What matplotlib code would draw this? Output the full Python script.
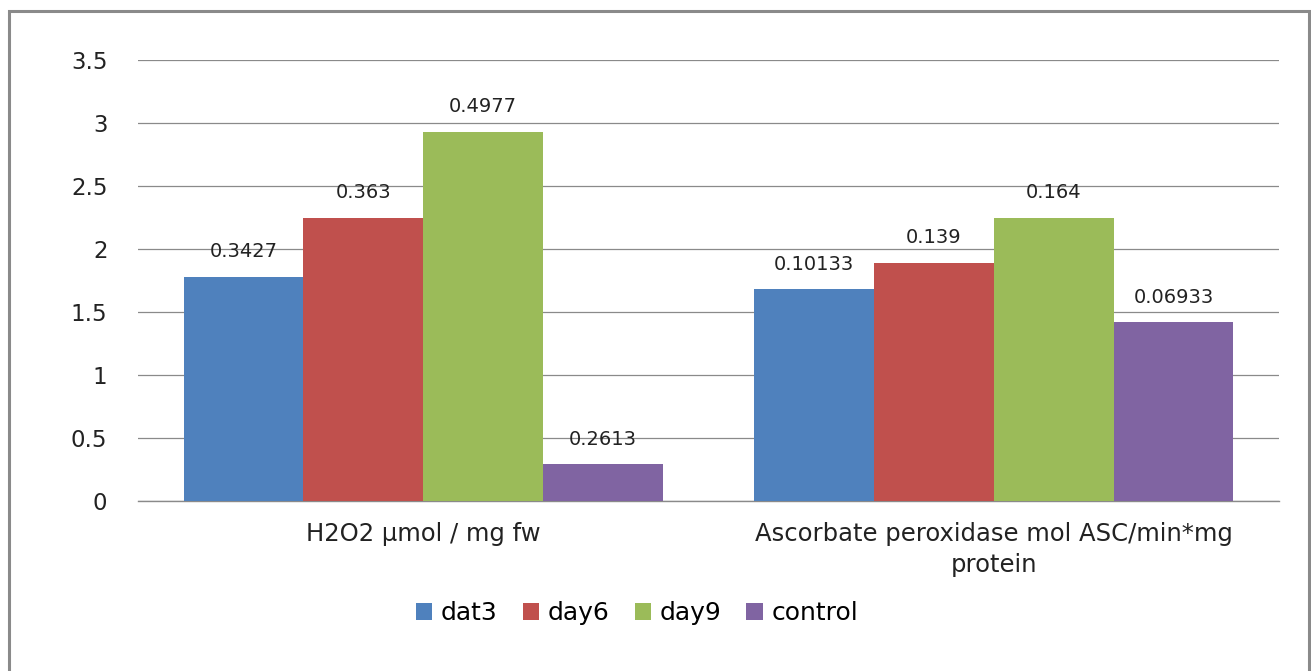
import matplotlib
matplotlib.use('Agg')
import matplotlib.pyplot as plt
import numpy as np
from matplotlib.patches import Rectangle

categories = ['H2O2 µmol / mg fw', 'Ascorbate peroxidase mol ASC/min*mg\nprotein']
series_names = ['dat3', 'day6', 'day9', 'control']
series_values = {
    'dat3': [1.78, 1.68],
    'day6': [2.25, 1.89],
    'day9': [2.93, 2.25],
    'control': [0.29, 1.42],
}
series_labels = {
    'dat3': ['0.3427', '0.10133'],
    'day6': ['0.363', '0.139'],
    'day9': ['0.4977', '0.164'],
    'control': ['0.2613', '0.06933'],
}
colors = ['#4F81BD', '#C0504D', '#9BBB59', '#8064A2']
y_ticks = [0, 0.5, 1, 1.5, 2, 2.5, 3, 3.5]

W, H = 1311, 671
fig = plt.figure(figsize=(W / 100, H / 100), dpi=100)
plt.rcParams['font.family'] = 'DejaVu Sans'

# plot area in pixels: x 138..1279, y 60..501
ax = fig.add_axes([138 / W, 1 - 501 / H, (1279 - 138) / W, (501 - 60) / H])

x = np.arange(len(categories))
bw = 0.21
for i, name in enumerate(series_names):
    pos = x + (i - 1.5) * bw
    bars = ax.bar(pos, series_values[name], width=bw, color=colors[i], label=name, zorder=3)
    for b, lab in zip(bars, series_labels[name]):
        ax.annotate(lab, (b.get_x() + b.get_width() / 2, b.get_height()),
                    xytext=(0, 18), textcoords='offset points',
                    ha='center', va='center', fontsize=14, color='#222222')

ax.set_xlim(-0.5, 1.5)
ax.set_ylim(0, 3.5)
ax.set_yticks(y_ticks)
ax.set_yticklabels([f'{t:g}' for t in y_ticks], fontsize=16.5, color='#222222')
ax.set_xticks(x)
ax.set_xticklabels(categories, fontsize=17.5, color='#222222', linespacing=1.4)
ax.tick_params(axis='y', length=0, pad=22)
ax.tick_params(axis='x', length=0, pad=15)
ax.yaxis.grid(True, color='#8a8a8a', linewidth=0.9, zorder=0)
ax.axhline(0, color='#8a8a8a', linewidth=1.0, zorder=2, clip_on=False)
for s in ax.spines.values():
    s.set_visible(False)

fig.legend(loc='center', bbox_to_anchor=(637 / W, 1 - 613 / H), ncol=4,
           frameon=False, fontsize=18, handlelength=0.65, handleheight=0.65,
           handletextpad=0.35, columnspacing=1.0)

fig.patches.append(Rectangle((9 / W, -0.1), (1309 - 9) / W, 1.1 - 11 / H,
                             transform=fig.transFigure, fill=False,
                             edgecolor='#8a8a8a', linewidth=2.2))

fig.savefig('out.png', dpi=100)
